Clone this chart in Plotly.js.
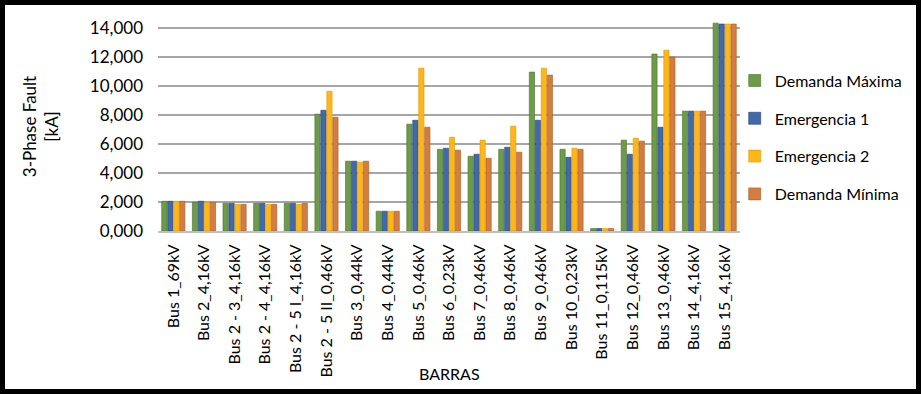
<!DOCTYPE html>
<html>
<head>
<meta charset="utf-8">
<script src="https://cdn.plot.ly/plotly-3.0.1.min.js"></script>
<style>
  html, body { margin: 0; padding: 0; background: #ffffff; }
  #frame { width: 921px; height: 394px; box-sizing: border-box; border: 5px solid #000; background: #fff; overflow: hidden; }
  #chart { width: 911px; height: 384px; }
</style>
</head>
<body>
<div id="frame"><div id="chart"></div></div>
<script>
const categories = [
  "Bus 1_69kV", "Bus 2_4,16kV", "Bus 2 - 3_4,16kV", "Bus 2 - 4_4,16kV",
  "Bus 2 - 5 I_4,16kV", "Bus 2 - 5 II_0,46kV", "Bus 3_0,44kV", "Bus 4_0,44kV",
  "Bus 5_0,46kV", "Bus 6_0,23kV", "Bus 7_0,46kV", "Bus 8_0,46kV",
  "Bus 9_0,46kV", "Bus 10_0,23kV", "Bus 11_0,115kV", "Bus 12_0,46kV",
  "Bus 13_0,46kV", "Bus 14_4,16kV", "Bus 15_4,16kV"
];

const demandaMaxima = [2.05, 1.98, 1.91, 1.91, 1.91, 8.05, 4.81, 1.36, 7.36, 5.63, 5.15, 5.63, 10.95, 5.63, 0.17, 6.26, 12.19, 8.26, 14.32];
const emergencia1   = [2.05, 2.05, 1.91, 1.91, 1.91, 8.32, 4.81, 1.36, 7.63, 5.70, 5.29, 5.77, 7.63, 5.08, 0.17, 5.29, 7.15, 8.26, 14.26];
const emergencia2   = [2.05, 1.98, 1.84, 1.84, 1.84, 9.63, 4.74, 1.36, 11.22, 6.46, 6.26, 7.22, 11.22, 5.70, 0.17, 6.39, 12.46, 8.26, 14.26];
const demandaMinima = [2.05, 1.98, 1.84, 1.84, 1.91, 7.84, 4.81, 1.36, 7.15, 5.57, 5.01, 5.43, 10.74, 5.63, 0.17, 6.19, 11.98, 8.26, 14.26];

const seriesNames = ["Demanda Máxima", "Emergencia 1", "Emergencia 2", "Demanda Mínima"];
const seriesValues = [demandaMaxima, emergencia1, emergencia2, demandaMinima];
const fillColors = ["#6E9B4A", "#4369A6", "#FFB61A", "#D47D42"];
const edgeColors = ["#46702A", "#1E3F7C", "#D99A00", "#A45A22"];

const traces = seriesNames.map((name, i) => ({
  type: "bar",
  name: name,
  x: categories,
  y: seriesValues[i],
  legendgroup: "g" + i,
  marker: { color: fillColors[i], line: { color: edgeColors[i], width: 0.6 } },
  cliponaxis: false,
  hoverinfo: "x+y+name"
}));

const font = "Lato, 'Open Sans', 'DejaVu Sans', sans-serif";

const layout = {
  width: 911, height: 384,
  margin: { l: 153, r: 176, t: 17, b: 158, autoexpand: false },
  paper_bgcolor: "#ffffff",
  plot_bgcolor: "#ffffff",
  barmode: "group",
  bargap: 0.22,
  bargroupgap: 0.12,
  separators: ",.",
  font: { family: font, color: "#000000", size: 15 },
  xaxis: {
    type: "category",
    tickangle: -90,
    tickfont: { family: font, size: 16, color: "#000" },
    showgrid: false,
    showline: true,
    linecolor: "#BFBFBF",
    linewidth: 2,
    ticks: "",
    automargin: false,
    ticklabelstandoff: 5
  },
  yaxis: {
    range: [0, 14.4],
    tickvals: [0, 2, 4, 6, 8, 10, 12, 14],
    tickformat: ".3f",
    tickfont: { family: font, size: 17, color: "#000" },
    showgrid: true,
    gridcolor: "#A6A6A6",
    gridwidth: 2,
    zeroline: false,
    showline: false,
    ticks: "",
    automargin: false,
    ticklabelstandoff: 14,
    title: { text: "3-Phase Fault<br>[kA]", font: { family: font, size: 17, color: "#000" }, standoff: 26 }
  },
  annotations: [{
    text: "BARRAS",
    xref: "paper", yref: "paper",
    x: 0.5, y: -0.684,
    xanchor: "center", yanchor: "middle",
    showarrow: false,
    font: { family: font, size: 16, color: "#000" }
  }],
  legend: {
    xref: "container", yref: "paper",
    x: 0.801, xanchor: "left",
    y: 0.447, yanchor: "middle",
    font: { family: font, size: 16, color: "#000" },
    traceorder: "grouped",
    tracegroupgap: 14,
    itemwidth: 30,
    bgcolor: "rgba(0,0,0,0)"
  },
  showlegend: true
};

Plotly.newPlot("chart", traces, layout, { displayModeBar: false, staticPlot: true });
</script>
</body>
</html>
